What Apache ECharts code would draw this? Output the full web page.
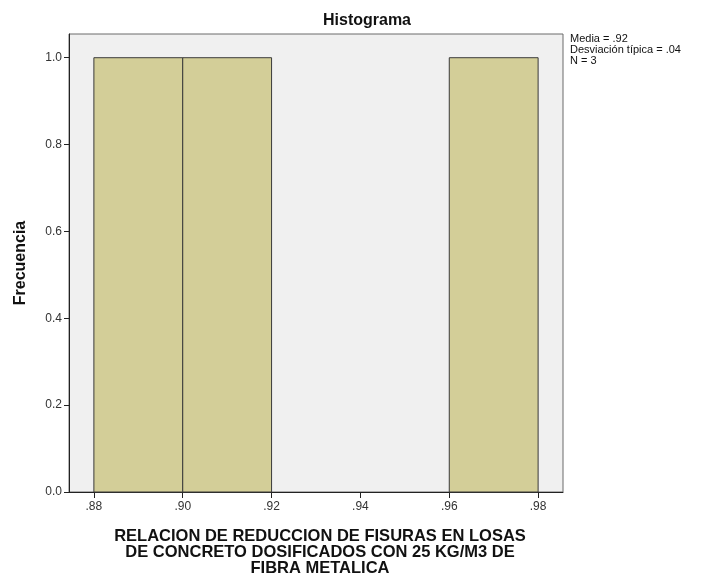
<!DOCTYPE html>
<html>
<head>
<meta charset="utf-8">
<script src="https://cdn.jsdelivr.net/npm/echarts@6/dist/echarts.min.js"></script>
<style>
  html, body { margin: 0; padding: 0; background: #ffffff; }
  #chart { width: 704px; height: 584px; }
</style>
</head>
<body>
<div id="chart"></div>
<script>
// Histogram bins: lower edge, upper edge, frequency
const binStart = [0.88, 0.90, 0.92, 0.94, 0.96];
const binEnd   = [0.90, 0.92, 0.94, 0.96, 0.98];
const binCount = [1, 1, 0, 0, 1];

// Tick positions
const xTicks = [0.88, 0.90, 0.92, 0.94, 0.96, 0.98];
const yTicks = [0.0, 0.2, 0.4, 0.6, 0.8, 1.0];

// Summary statistics shown beside the plot
const statLines = ['Media = .92', 'Desviación típica = .04', 'N = 3'];

const xTitleLines = [
  'RELACION DE REDUCCION DE FISURAS EN LOSAS',
  'DE CONCRETO DOSIFICADOS CON 25 KG/M3 DE',
  'FIBRA METALICA'
];

const FONT = 'Arial, "Liberation Sans", sans-serif';

const binData = binStart.map((s, i) => [s, binEnd[i], binCount[i]]);

const chart = echarts.init(document.getElementById('chart'), null, { renderer: 'canvas' });

chart.setOption({
  animation: false,
  backgroundColor: '#ffffff',
  title: {
    text: 'Histograma',
    left: 362,
    top: 8,
    textAlign: 'center',
    textStyle: { fontFamily: FONT, fontSize: 16, fontWeight: 'bold', color: '#111' }
  },
  grid: {
    left: 69, top: 34, right: 141, bottom: 92,
    show: true,
    backgroundColor: '#f0f0f0',
    borderColor: '#6a6a6a',
    borderWidth: 1
  },
  xAxis: {
    type: 'value',
    min: 0.8744,
    max: 0.9856,
    axisLine: { show: true, onZero: false, lineStyle: { color: '#222', width: 1 } },
    axisTick: { show: true, length: 6, customValues: xTicks, lineStyle: { color: '#222' } },
    axisLabel: {
      customValues: xTicks,
      margin: 9,
      fontFamily: FONT, fontSize: 12, color: '#333',
      formatter: v => v.toFixed(2).replace(/^0/, '')
    },
    splitLine: { show: false }
  },
  yAxis: {
    type: 'value',
    min: 0,
    max: 1.0546,
    name: 'Frecuencia',
    nameLocation: 'middle',
    nameGap: 40,
    nameTextStyle: { fontFamily: FONT, fontSize: 16, fontWeight: 'bold', color: '#111' },
    axisLine: { show: true, lineStyle: { color: '#222', width: 1 } },
    axisTick: { show: true, length: 5, customValues: yTicks, lineStyle: { color: '#222' } },
    axisLabel: {
      customValues: yTicks,
      margin: 7,
      fontFamily: FONT, fontSize: 12, color: '#333',
      formatter: v => v.toFixed(1)
    },
    splitLine: { show: false }
  },
  graphic: [
    {
      type: 'text',
      left: 570,
      top: 33,
      style: {
        text: statLines.join('\n'),
        fontFamily: FONT,
        fontSize: 11,
        lineHeight: 11,
        fill: '#111'
      }
    },
    {
      type: 'text',
      x: 320,
      y: 528,
      style: {
        text: xTitleLines.join('\n'),
        fontFamily: FONT,
        fontSize: 16.5,
        fontWeight: 'bold',
        lineHeight: 16,
        align: 'center',
        verticalAlign: 'top',
        fill: '#111'
      }
    }
  ],
  series: [{
    type: 'custom',
    data: binData,
    encode: { x: [0, 1], y: 2 },
    renderItem: function (params, api) {
      const count = api.value(2);
      if (!count) return null;
      const p0 = api.coord([api.value(0), count]);
      const p1 = api.coord([api.value(1), 0]);
      return {
        type: 'rect',
        shape: { x: p0[0], y: p0[1], width: p1[0] - p0[0], height: p1[1] - p0[1] },
        style: { fill: '#d3ce98', stroke: '#3a3a3a', lineWidth: 1 }
      };
    }
  }]
});
</script>
</body>
</html>
